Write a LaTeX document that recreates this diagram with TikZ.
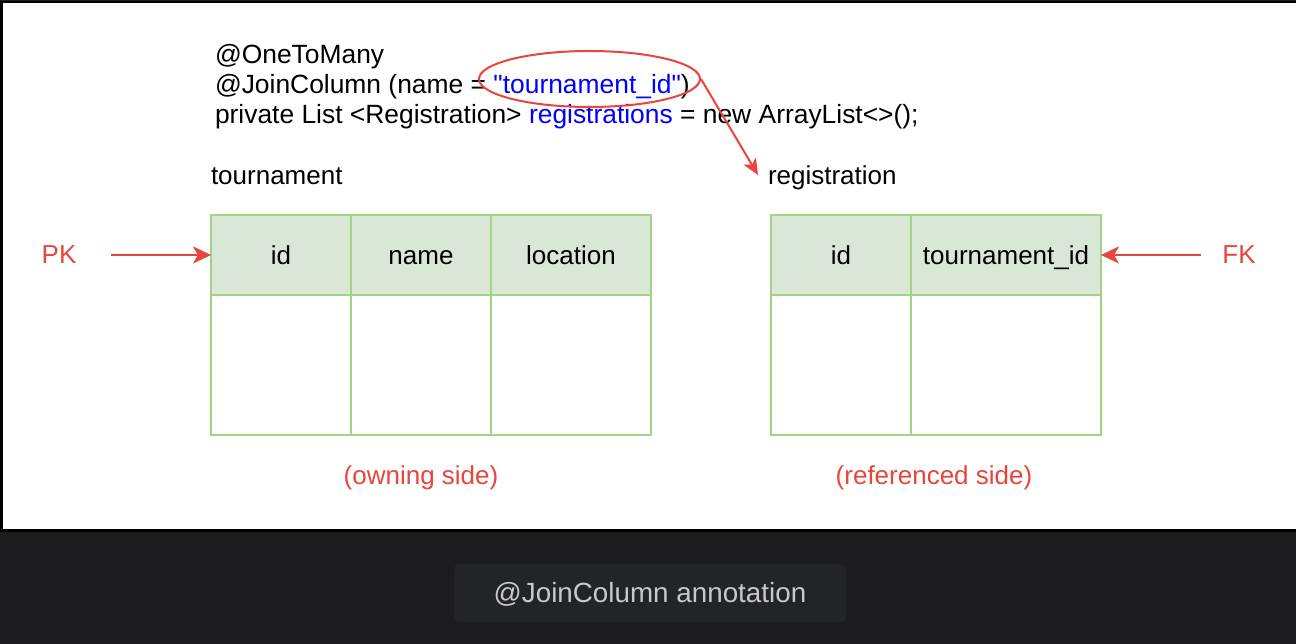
\documentclass[tikz,border=0pt]{standalone}
\usepackage{fontspec}
\setmainfont{Liberation Sans}
\newfontfamily\plainsans{Liberation Sans}[Ligatures=ResetAll]
\usetikzlibrary{shapes.geometric,arrows.meta}
\definecolor{pagebg}{HTML}{1C1C1E}
\definecolor{capbg}{HTML}{232428}
\definecolor{captext}{HTML}{C8C8CC}
\definecolor{myred}{HTML}{E8453C}
\definecolor{myblue}{HTML}{0000FF}
\definecolor{hgreen}{HTML}{D9E7D6}
\definecolor{tgreen}{HTML}{A3D385}
\newcommand{\dq}{{\plainsans"}}
\tikzset{
  txt/.style={inner sep=0pt, outer sep=0pt, font=\fontsize{26}{30}\selectfont, text=black},
  codetxt/.style={txt, font=\fontsize{26.4}{30}\selectfont},
  redtxt/.style={txt, text=myred},
  cellbox/.style={draw=tgreen, line width=2pt, inner sep=0pt, outer sep=0pt,
    font=\fontsize{26}{30}\selectfont, text height=18.5pt, text depth=0pt},
  headcell/.style={cellbox, fill=hgreen, minimum height=80pt},
  bodycell/.style={cellbox, fill=white, minimum height=140pt},
  redarrow/.style={draw=myred, line width=2.5pt, -{Stealth[length=18pt,width=17pt,inset=5pt]}},
}
\begin{document}
\begin{tikzpicture}[x=1pt,y=-1pt]
\useasboundingbox (0,0) rectangle (1296,644);
% background and frame
\fill[pagebg] (0,0) rectangle (1296,644);
\fill[black] (0,1) rectangle (1296,532);
\fill[white] (3,3) rectangle (1296,529);

% code lines
\node[codetxt, anchor=base west] (l1) at (215,64) {@OneToMany};
\node[codetxt, anchor=base west] (l2) at (215,94) {@JoinColumn (name = \textcolor{myblue}{\dq tournament\_id\dq})};
\node[codetxt, anchor=base west] (l3) at (215,124) {private List <Registration> \textcolor{myblue}{registrations} = new ArrayList<>();};

% ellipse highlight
\node[draw=myred, line width=2pt, ellipse, minimum width=221pt, minimum height=56pt, inner sep=0pt] (ell) at (589.5,79) {};
\coordinate (tip) at (758,175);
\draw[redarrow, line width=2pt, -{Stealth[length=16pt,width=14pt,inset=4pt]}] (ell.east) -- (tip);

% table titles
\node[txt, anchor=base west] (ttitle) at (211,185) {tournament};
\node[txt, anchor=base west] (rtitle) at (768,185) {registration};

% tournament table
\node[headcell, minimum width=140pt] (tid) at (281,255) {id};
\node[headcell, minimum width=140pt] (tname) at (421,255) {name};
\node[headcell, minimum width=160pt] (tloc) at (571,255) {location};
\node[bodycell, minimum width=140pt] (tidb) at (281,365) {};
\node[bodycell, minimum width=140pt] (tnameb) at (421,365) {};
\node[bodycell, minimum width=160pt] (tlocb) at (571,365) {};

% registration table
\node[headcell, minimum width=140pt] (rid) at (841,255) {id};
\node[headcell, minimum width=190pt] (rtid) at (1006,255) {tournament\_id};
\node[bodycell, minimum width=140pt] (ridb) at (841,365) {};
\node[bodycell, minimum width=190pt] (rtidb) at (1006,365) {};

% PK / FK
\node[redtxt, anchor=base] (pk) at (59,264) {PK};
\node[redtxt, anchor=base] (fk) at (1239,264) {FK};
\coordinate (pkstart) at (111,255);
\coordinate (fkstart) at (1201,255);
\draw[redarrow] (pkstart) -- (tid.west);
\draw[redarrow] (fkstart) -- (rtid.east);

% side labels
\node[redtxt, anchor=base] (own) at (421,484) {(owning side)};
\node[redtxt, anchor=base] (refd) at (934,484) {(referenced side)};

% caption
\node[fill=capbg, rounded corners=6pt, minimum width=392pt, minimum height=58pt, inner sep=0pt] (capbox) at (650,593) {};
\node[inner sep=0pt, anchor=base, text=captext, font=\fontsize{27.8}{30}\selectfont] (cap) at (650,602) {@JoinColumn annotation};
\end{tikzpicture}
\end{document}
